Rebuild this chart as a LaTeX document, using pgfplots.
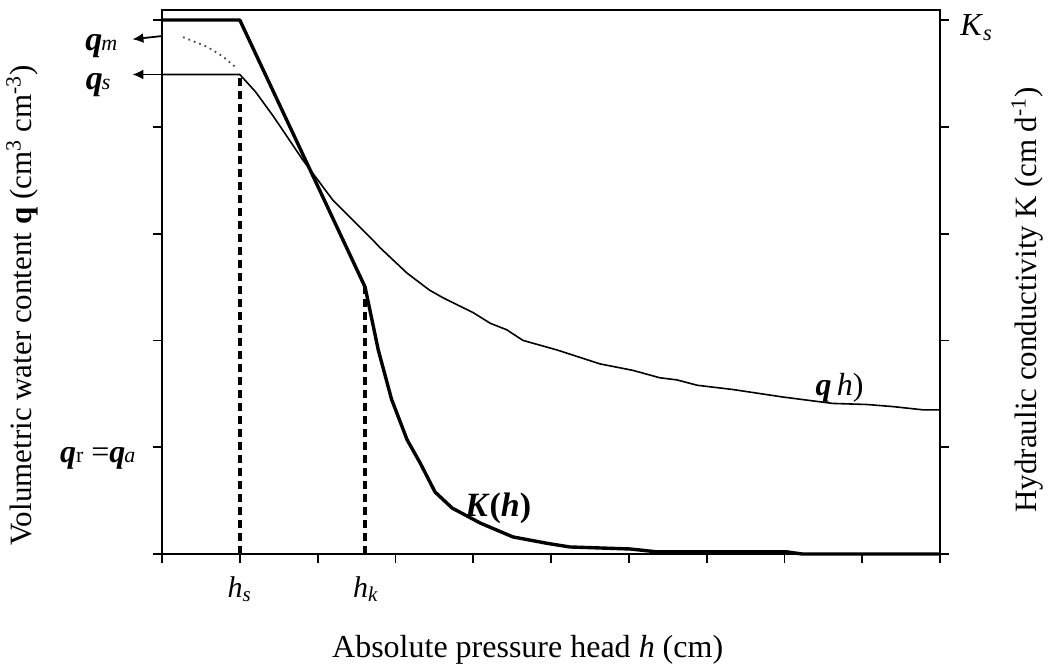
\documentclass[border=0pt]{standalone}
\usepackage{pgfplots}
\pgfplotsset{compat=1.18}
\usetikzlibrary{arrows.meta}
\usepackage{fontspec}
\setmainfont{Liberation Serif}
\begin{document}
\begin{tikzpicture}
\begin{axis}[
  name=ax, at={(0,0)}, anchor=south west,
  scale only axis, width=389pt, height=272pt,
  xmin=0, xmax=10, ymin=0, ymax=5.094,
  xtick={0,1,...,10}, ytick={0,1,...,5},
  xticklabels={}, yticklabels={},
  tick align=outside, xtick pos=bottom, ytick pos=both,
  major tick length=4.5pt,
  axis line style={line width=1.1pt},
  every tick/.style={black, line width=0.9pt},
  clip=false,
]
% K(h)
\addplot[black, line width=1.7pt, line join=round] coordinates {
(0,5) (1.0,5) (2.61,2.5) (2.78,1.91) (2.95,1.45) (3.15,1.07) (3.32,0.85) (3.51,0.58)
(3.73,0.43) (4.09,0.29) (4.51,0.16) (4.95,0.10) (5.24,0.066) (6.02,0.047)
(6.36,0.02) (8.03,0.02) (8.23,0) (10,0)};
% theta(h)
\addplot[black, line width=0.8pt, line join=round] coordinates {
(0,4.49) (1.0,4.49) (1.20,4.33) (1.43,4.10) (1.81,3.69) (2.20,3.31) (2.71,2.94) (2.80,2.87)
(3.15,2.63) (3.44,2.47) (3.61,2.40) (4.00,2.26) (4.22,2.16) (4.43,2.10)
(4.64,2.00) (5.08,1.91) (5.63,1.78) (6.05,1.72) (6.40,1.65) (6.62,1.63)
(6.88,1.58) (7.34,1.54) (7.98,1.47) (8.62,1.41) (9.06,1.40) (9.40,1.38)
(9.78,1.35) (10,1.35)};
% dotted extension
\addplot[black!70, dotted, line width=0.9pt] coordinates {
(0.27,4.84) (0.58,4.75) (0.78,4.66) (0.96,4.55)};
% dashed verticals
\addplot[black, line width=1.8pt, dash pattern=on 4pt off 2.5pt] coordinates {(1.0,0) (1.0,4.49)};
\addplot[black, line width=1.8pt, dash pattern=on 4pt off 2.5pt] coordinates {(2.61,0) (2.61,2.5)};
% arrows
\draw[line width=0.9pt, -{Latex[length=5.5pt,width=5pt]}] (axis cs:0,4.49) -- (axis cs:-0.38,4.49);
\draw[line width=0.9pt, -{Latex[length=5.5pt,width=5pt]}] (axis cs:0,4.85) -- (axis cs:-0.38,4.82);
% labels
\node[font=\fontsize{17}{17}\selectfont] at (axis cs:-0.78,4.76) {\textbf{\textit{q}}\kern-0.5pt{\fontsize{11}{11}\selectfont\textit{m}}};
\node[font=\fontsize{17}{17}\selectfont] at (axis cs:-0.82,4.39) {\textbf{\textit{q}}\kern-0.5pt{\fontsize{11}{11}\selectfont\textit{s}}};
\node[anchor=east, font=\fontsize{16}{16}\selectfont] at (axis cs:-0.25,0.90) {\textbf{\textit{q}}{\fontsize{11}{11}\selectfont r} =\textbf{\textit{q}}\kern-0.5pt{\fontsize{11}{11}\selectfont\textit{a}}};
\node[anchor=west, font=\fontsize{16}{16}\selectfont] at (axis cs:10.17,4.93) {\textit{K}\textsubscript{\textit{s}}};
\node[font=\fontsize{15}{15}\selectfont] at (axis cs:1.0,-0.33) {\textit{h}\textsubscript{\textit{s}}};
\node[font=\fontsize{15}{15}\selectfont] at (axis cs:2.62,-0.33) {\textit{h}\textsubscript{\textit{k}}};
\node[font=\fontsize{17}{17}\selectfont] at (axis cs:4.32,0.43) {\textbf{\textit{K}(\textit{h})}};
\node[font=\fontsize{16}{16}\selectfont] at (axis cs:8.71,1.56) {\textbf{\textit{q}}\,\textit{h})};
% axis titles
\node[font=\fontsize{16}{16}\selectfont] at (axis cs:4.70,-0.90) {Absolute pressure head \textit{h} (cm)};
\node[rotate=90, font=\fontsize{15.5}{15.5}\selectfont] at (axis cs:-1.80,2.33) {Volumetric water content \textbf{q} (cm\textsuperscript{3} cm\textsuperscript{-3})};
\node[rotate=90, font=\fontsize{15.5}{15.5}\selectfont] at (axis cs:11.12,2.38) {Hydraulic conductivity K (cm d\textsuperscript{-1})};
\end{axis}
\pgfresetboundingbox
\path[use as bounding box] ([shift={(-81pt,-58pt)}]ax.south west) rectangle ([shift={(445.5pt,277pt)}]ax.south west);
\end{tikzpicture}
\end{document}
